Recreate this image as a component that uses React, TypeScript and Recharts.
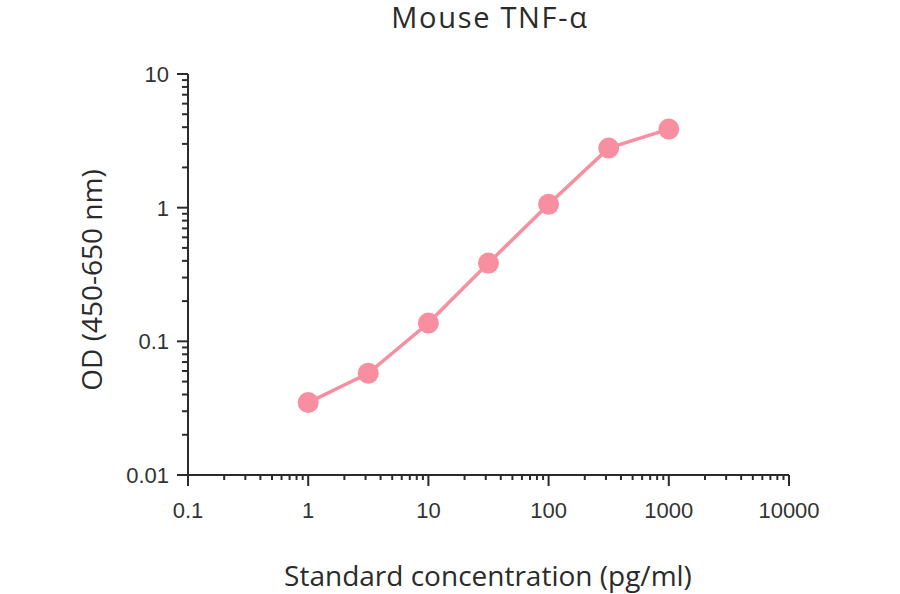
import React from 'react';
import { LineChart, Line, XAxis, YAxis } from 'recharts';

const concentrations = [1, 3.16, 10, 31.6, 100, 316, 1000];
const odValues = [0.0348, 0.0577, 0.137, 0.385, 1.06, 2.79, 3.87];

const xMajorTicks = [0.1, 1, 10, 100, 1000, 10000];
const xTicks = [
  0.1, 0.2, 0.3, 0.4, 0.5, 0.6, 0.7, 0.8, 0.9,
  1, 2, 3, 4, 5, 6, 7, 8, 9,
  10, 20, 30, 40, 50, 60, 70, 80, 90,
  100, 200, 300, 400, 500, 600, 700, 800, 900,
  1000, 2000, 3000, 4000, 5000, 6000, 7000, 8000, 9000,
  10000,
];
const yMajorTicks = [0.01, 0.1, 1, 10];
const yTicks = [
  0.01, 0.02, 0.03, 0.04, 0.05, 0.06, 0.07, 0.08, 0.09,
  0.1, 0.2, 0.3, 0.4, 0.5, 0.6, 0.7, 0.8, 0.9,
  1, 2, 3, 4, 5, 6, 7, 8, 9,
  10,
];

const chartTitle = 'Mouse TNF-α';
const xTitle = 'Standard concentration (pg/ml)';
const yTitle = 'OD (450-650 nm)';

const data = concentrations.map((c, i) => ({ x: c, y: odValues[i] }));

const AXIS_COLOR = '#2b2b2b';
const LINE_COLOR = '#f78fa0';
const TICK_FONT = '"Liberation Sans", Arial, sans-serif';
const TITLE_FONT = '"Open Sans", "Noto Sans", sans-serif';

const isMajor = (v: number, majors: number[]) => majors.some((m) => Math.abs(m - v) / m < 1e-6);

const XTick = (props: any) => {
  const { x, y, payload } = props;
  const major = isMajor(payload.value, xMajorTicks);
  return (
    <g>
      <line x1={x} x2={x} y1={y} y2={y + (major ? 11 : 5)} stroke={AXIS_COLOR} strokeWidth={2} />
      {major && (
        <text x={x} y={y + 43} textAnchor="middle" fontFamily={TICK_FONT} fontSize={22} fill="#333">
          {String(payload.value)}
        </text>
      )}
    </g>
  );
};

const YTick = (props: any) => {
  const { x, y, payload } = props;
  const major = isMajor(payload.value, yMajorTicks);
  return (
    <g>
      <line x1={x} x2={x - (major ? 11 : 6)} y1={y} y2={y} stroke={AXIS_COLOR} strokeWidth={2} />
      {major && (
        <text x={x - 19} y={y + 8} textAnchor="end" fontFamily={TICK_FONT} fontSize={22} fill="#333">
          {String(payload.value)}
        </text>
      )}
    </g>
  );
};

export default function App() {
  return (
    <div style={{ position: 'absolute', left: 0, top: 0, width: 900, height: 594, background: '#fff' }}>
      <LineChart
        width={900}
        height={594}
        data={data}
        margin={{ top: 74, right: 111, bottom: 79, left: 128 }}
      >
        <XAxis
          dataKey="x"
          type="number"
          scale="log"
          domain={[0.1, 10000]}
          ticks={xTicks}
          interval={0}
          allowDataOverflow
          height={40}
          tickSize={0}
          tickMargin={0}
          tickLine={false}
          axisLine={{ stroke: AXIS_COLOR, strokeWidth: 2 }}
          tick={<XTick />}
        />
        <YAxis
          dataKey="y"
          type="number"
          scale="log"
          domain={[0.01, 10]}
          ticks={yTicks}
          interval={0}
          allowDataOverflow
          width={60}
          tickSize={0}
          tickMargin={0}
          tickLine={false}
          axisLine={{ stroke: AXIS_COLOR, strokeWidth: 2 }}
          tick={<YTick />}
        />
        <Line
          type="linear"
          dataKey="y"
          stroke={LINE_COLOR}
          strokeWidth={3.5}
          dot={{ r: 10.5, fill: LINE_COLOR, stroke: LINE_COLOR, strokeWidth: 0 }}
          isAnimationActive={false}
        />
      </LineChart>
      <svg
        width={900}
        height={594}
        style={{ position: 'absolute', left: 0, top: 0, pointerEvents: 'none' }}
      >
        <text x={490} y={28} textAnchor="middle" fontFamily={TITLE_FONT} fontSize={29} letterSpacing={1.7} fill="#2b2b2b">
          {chartTitle}
        </text>
        <text x={488} y={586} textAnchor="middle" fontFamily={TITLE_FONT} fontSize={28} fill="#2b2b2b">
          {xTitle}
        </text>
        <text
          x={0}
          y={0}
          transform="translate(102 280) rotate(-90)"
          textAnchor="middle"
          fontFamily={TITLE_FONT}
          fontSize={28}
          fill="#2b2b2b"
        >
          {yTitle}
        </text>
      </svg>
    </div>
  );
}
